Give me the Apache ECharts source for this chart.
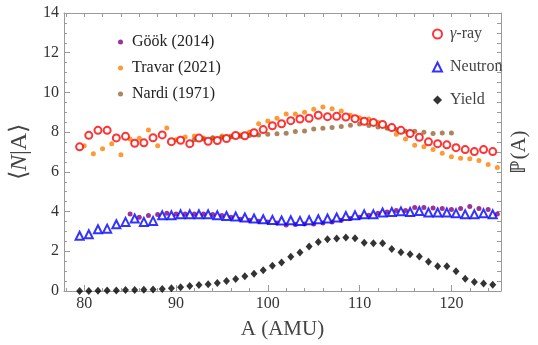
<!DOCTYPE html>
<html>
<head>
<meta charset="utf-8">
<script src="https://cdn.jsdelivr.net/npm/echarts@6/dist/echarts.min.js"></script>
<style>html,body{margin:0;padding:0;background:#fff}#c{width:538px;height:345px}</style>
</head>
<body>
<div id="c"></div>
<script>
// A values (half-integer grid for gamma / neutron / yield)
const aHalf = [79.5,80.5,81.5,82.5,83.5,84.5,85.5,86.5,87.5,88.5,89.5,90.5,91.5,92.5,93.5,94.5,95.5,96.5,97.5,98.5,99.5,100.5,101.5,102.5,103.5,104.5,105.5,106.5,107.5,108.5,109.5,110.5,111.5,112.5,113.5,114.5,115.5,116.5,117.5,118.5,119.5,120.5,121.5,122.5,123.5,124.5];
const gammaRay = [7.26,7.84,8.09,8.09,7.71,7.79,7.44,7.46,7.72,7.86,7.52,7.59,7.42,7.70,7.54,7.58,7.68,7.83,7.82,7.97,8.13,8.32,8.42,8.58,8.66,8.70,8.85,8.78,8.80,8.76,8.68,8.55,8.49,8.39,8.23,8.09,7.93,7.74,7.51,7.42,7.36,7.22,7.12,7.02,7.12,7.02];
const neutron = [2.78,2.86,3.11,3.14,3.36,3.48,3.65,3.48,3.53,3.81,3.81,3.86,3.86,3.86,3.86,3.81,3.78,3.75,3.70,3.65,3.61,3.58,3.55,3.56,3.53,3.56,3.61,3.65,3.70,3.78,3.81,3.86,3.86,3.95,3.98,4.01,3.98,4.03,3.95,3.95,3.95,3.91,3.86,3.86,3.91,3.86];
const yieldVals = [0.0,0.0,0.01,0.02,0.03,0.05,0.05,0.06,0.08,0.10,0.14,0.19,0.25,0.30,0.34,0.40,0.50,0.60,0.74,0.87,1.04,1.27,1.44,1.72,1.94,2.24,2.47,2.60,2.64,2.69,2.66,2.43,2.41,2.40,2.11,1.95,1.85,1.74,1.47,1.25,1.25,0.99,0.62,0.45,0.38,0.32];

// Travar (2021)
const aTravar = [80,81,82,83,84,85,86,87,88,89,90,91,92,93,94,95,96,97,98,99,100,101,102,103,104,105,106,107,108,109,110,111,112,113,114,115,116,117,118,119,120,121,122,123,124,125];
const travar = [7.32,6.91,7.16,7.41,6.86,7.66,7.69,8.11,7.31,8.21,7.62,7.76,7.81,7.70,7.72,7.81,7.80,7.85,8.01,8.42,8.56,8.70,8.91,8.91,9.00,9.15,9.26,9.18,9.07,8.85,8.73,8.66,8.49,8.24,7.89,7.66,7.34,7.26,7.12,6.94,6.76,6.69,6.66,6.57,6.37,6.22];

// Göök (2014)
const aGook = [85,86,87,88,89,90,91,92,93,94,95,96,97,98,99,100,101,102,103,104,105,106,107,108,109,110,111,112,113,114,115,116,117,118,119,120,121,122,123,124,125];
const gook = [3.88,3.71,3.80,3.85,3.91,3.88,3.88,3.88,3.88,3.85,3.80,3.71,3.61,3.56,3.51,3.48,3.43,3.33,3.35,3.38,3.38,3.43,3.48,3.56,3.65,3.71,3.81,3.91,3.98,4.05,4.06,4.21,4.21,4.18,4.15,4.11,4.16,4.25,4.15,4.11,3.88];

// Nardi (1971)
const aNardi = [92,93,94,95,96,97,98,99,100,101,102,103,104,105,106,107,108,109,110,111,112,113,114,115,116,117,118,119,120];
const nardi = [7.62,7.66,7.70,7.74,7.77,7.79,7.83,7.85,7.90,7.92,7.94,8.03,8.06,8.16,8.19,8.24,8.29,8.35,8.41,8.33,8.26,8.19,8.13,8.05,8.04,8.00,7.93,7.96,7.96];

// ticks
const xTickLabels = [80,90,100,110,120];
const xMinorTicks = [78,82,84,86,88,92,94,96,98,102,104,106,108,112,114,116,118,122,124];
const xTopTicks = [78,80,82,84,86,88,90,92,94,96,98,100,102,104,106,108,110,112,114,116,118,120,122,124];

const zip = (xs, ys) => xs.map((x, i) => [x, ys[i]]);
const SERIF = 'Liberation Serif';
const FRAME = '#9a9a9a';
const TXT = '#333';

const chart = echarts.init(document.getElementById('c'), null, {renderer: 'canvas'});
chart.setOption({
  animation: false,
  backgroundColor: '#fff',
  textStyle: {fontFamily: SERIF},
  grid: {left: 58, right: 29, top: 13, bottom: 53},
  legend: [
    {
      data: ['Göök (2014)', 'Travar (2021)', 'Nardi (1971)'],
      orient: 'vertical', left: 113, top: 29, itemGap: 10,
      itemWidth: 5, itemHeight: 5,
      textStyle: {fontFamily: SERIF, fontSize: 16, color: '#222', padding: [0, 0, 0, 4]}
    },
    {
      data: ['γ-ray', 'Neutron', 'Yield'],
      orient: 'vertical', left: 427, top: 21, itemGap: 17,
      itemWidth: 9, itemHeight: 9,
      formatter: n => n === 'γ-ray' ? '{g|γ}{t|-ray}' : n,
      textStyle: {fontFamily: SERIF, fontSize: 16, color: '#444', padding: [0, 0, 0, 3],
        rich: {g: {fontFamily: SERIF, fontStyle: 'italic', fontSize: 16, color: '#444'},
               t: {fontFamily: SERIF, fontSize: 16, color: '#444'}}}
    }
  ],
  xAxis: [
    {
      type: 'value', position: 'bottom', min: 77.8, max: 125.4,
      axisLine: {show: true, lineStyle: {color: FRAME, width: 1}},
      axisTick: {show: true, inside: true, length: 6, customValues: xTickLabels, lineStyle: {color: FRAME}},
      axisLabel: {customValues: xTickLabels, fontFamily: SERIF, fontSize: 16, color: TXT, margin: 5},
      splitLine: {show: false},
      name: 'A (AMU)', nameLocation: 'middle', nameGap: 28,
      nameTextStyle: {fontFamily: SERIF, fontSize: 21, color: '#444'}
    },
    {
      type: 'value', position: 'bottom', min: 77.8, max: 125.4,
      axisLine: {show: false},
      axisTick: {show: true, inside: true, length: 3, customValues: xMinorTicks, lineStyle: {color: FRAME}},
      axisLabel: {show: false},
      splitLine: {show: false}
    },
    {
      type: 'value', position: 'top', min: 77.8, max: 125.4,
      axisLine: {show: true, lineStyle: {color: FRAME, width: 1}},
      axisTick: {show: true, inside: true, length: 4, customValues: xTopTicks, lineStyle: {color: FRAME}},
      axisLabel: {show: false},
      splitLine: {show: false}
    }
  ],
  yAxis: [
    {
      type: 'value', position: 'left', min: 0, max: 14, interval: 2,
      axisLine: {show: true, lineStyle: {color: FRAME, width: 1}},
      axisTick: {show: true, inside: true, length: 6, lineStyle: {color: FRAME}},
      minorTick: {show: true, splitNumber: 4, length: 3, lineStyle: {color: FRAME}},
      axisLabel: {fontFamily: SERIF, fontSize: 16, color: TXT, margin: 5},
      splitLine: {show: false},
      name: '{t|⟨}{i|N}{t||A⟩}', nameLocation: 'middle', nameGap: 32, nameRotate: 90,
      nameTextStyle: {fontFamily: SERIF, fontSize: 24, color: '#444',
        rich: {i: {fontFamily: SERIF, fontStyle: 'italic', fontSize: 24, color: '#444'},
               t: {fontFamily: SERIF, fontSize: 24, color: '#444'}}}
    },
    {
      type: 'value', position: 'right', min: 0, max: 14, interval: 0.5,
      axisLine: {show: true, lineStyle: {color: FRAME, width: 1}},
      axisTick: {show: true, inside: true, length: 4, lineStyle: {color: FRAME}},
      axisLabel: {show: false},
      splitLine: {show: false},
      name: 'ℙ(A)', nameLocation: 'middle', nameGap: 8, nameRotate: 90,
      nameTextStyle: {fontFamily: SERIF, fontSize: 21, color: '#444'}
    }
  ],
  series: [
    {name: 'Travar (2021)', type: 'scatter', data: zip(aTravar, travar), symbol: 'circle', symbolSize: 5,
      itemStyle: {color: '#ff8000'}},
    {name: 'Nardi (1971)', type: 'scatter', data: zip(aNardi, nardi), symbol: 'circle', symbolSize: 5,
      itemStyle: {color: '#996633'}},
    {name: 'Göök (2014)', type: 'scatter', data: zip(aGook, gook), symbol: 'circle', symbolSize: 5,
      itemStyle: {color: '#800080'}},
    {name: 'γ-ray', type: 'scatter', data: zip(aHalf, gammaRay), symbol: 'emptyCircle', symbolSize: 7,
      itemStyle: {color: '#ff0000', borderColor: '#ff0000', borderWidth: 2}},
    {name: 'Neutron', type: 'scatter', data: zip(aHalf, neutron), symbol: 'emptyTriangle', symbolSize: 8,
      itemStyle: {color: '#0000ff', borderColor: '#0000ff', borderWidth: 1.8}},
    {name: 'Yield', type: 'scatter', data: zip(aHalf, yieldVals), symbol: 'diamond', symbolSize: [7, 8],
      itemStyle: {color: '#000'}}
  ]
});
</script>
</body>
</html>
